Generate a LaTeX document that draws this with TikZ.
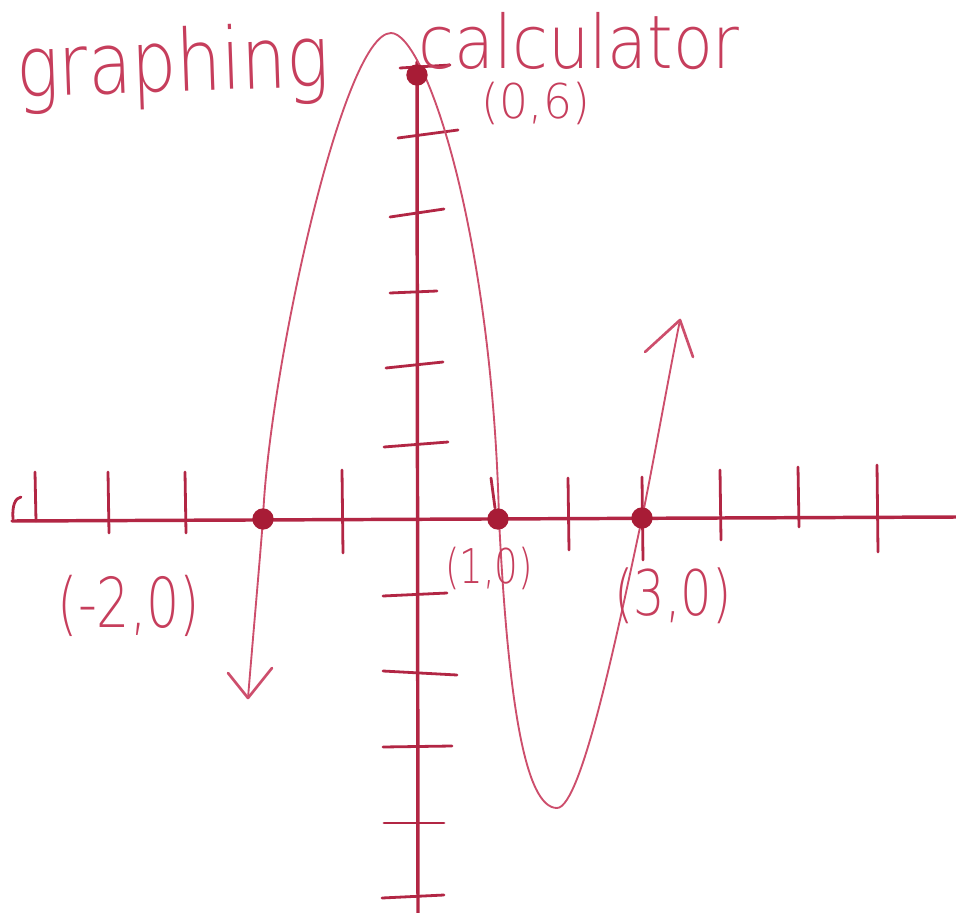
\documentclass[tikz,border=0pt]{standalone}
\usepackage{fontspec}
\newfontfamily\hand{DejaVuSans-ExtraLight.ttf}
\definecolor{axiscol}{RGB}{178,38,68}
\definecolor{curvecol}{RGB}{205,78,108}
\definecolor{textcol}{RGB}{198,62,92}
\definecolor{dotcol}{RGB}{168,28,54}
\tikzset{
  axisline/.style={draw=axiscol, line width=2.6pt, line cap=round},
  tickline/.style={draw=axiscol, line width=2.1pt, line cap=round},
  curveline/.style={draw=curvecol, line width=1.4pt, line cap=round, line join=round},
  headline/.style={draw=curvecol, line width=2pt, line cap=round, line join=round},
  rootdot/.style={circle, fill=dotcol, inner sep=0pt, minimum size=16pt},
  lbl/.style={text=textcol, inner sep=0pt, font=\hand}
}
\begin{document}
\begin{tikzpicture}[x=0.75pt,y=-0.75pt]
\useasboundingbox (0,0) rectangle (956,913);
% axes
\coordinate (xl) at (12,521);
\coordinate (xr) at (956,517);
\coordinate (yt) at (417,62);
\coordinate (yb) at (418,913);
\draw[axisline] (xl) -- (xr);
\draw[axisline] (yt) -- (yb);
\draw[tickline] (13,519) .. controls (12,506) and (15,498) .. (21,497);
% x ticks
\foreach \x/\a/\b in {35/472/521, 108/472/533, 185/472/533, 342/470/553,
  568/478/550, 642/477/560, 720/470/540, 798/467/527, 877/465/552}
  \draw[tickline] (\x,\a) -- (\x+1,\b);
\draw[tickline] (491,478) -- (495,508);
% y ticks
\foreach \xa/\ya/\xb/\yb in {400/68/450/65, 398/138/458/130, 390/217/444/209,
  390/293/437/291, 386/368/443/362, 384/447/448/442, 383/596/447/593,
  383/671/457/675, 383/747/452/746, 384/823/444/823, 382/898/444/895}
  \draw[tickline] (\xa,\ya) -- (\xb,\yb);
% curve
\coordinate (tipL) at (248,698);
\coordinate (tipR) at (680,320);
\coordinate (rootA) at (263,519);
\coordinate (peak) at (391,33);
\coordinate (rootB) at (499,519);
\coordinate (low) at (557,808);
\coordinate (rootC) at (642,518);
\draw[curveline] (tipL) .. controls (254,625) and (259,570) .. (rootA)
  .. controls (268,380) and (342,33) .. (peak)
  .. controls (425,33) and (492,230) .. (rootB)
  .. controls (508,700) and (525,808) .. (low)
  .. controls (582,808) and (620,620) .. (rootC)
  .. controls (652,470) and (668,380) .. (tipR);
\draw[headline] (228,673) -- (tipL) -- (272,668);
\draw[headline] (645,352) -- (tipR) -- (693,357);
% points
\node[rootdot] (rA) at (263,519) {};
\node[rootdot] (rB) at (498,519) {};
\node[rootdot] (rC) at (642,518) {};
\node[rootdot] (yI) at (417,75) {};
% labels
\node[lbl, rotate=2] (t1) at (173,68) {\resizebox*{235pt}{62pt}{graphing}};
\node[lbl] (t2) at (579,41) {\resizebox*{241pt}{43pt}{calculator}};
\node[lbl] (l06) at (536,103) {\resizebox*{81pt}{32pt}{(0,6)}};
\node[lbl] (lm20) at (129,606) {\resizebox*{107pt}{46pt}{(-2,0)}};
\node[lbl] (l10) at (489,568) {\resizebox*{66pt}{32pt}{(1,0)}};
\node[lbl] (l30) at (673,596) {\resizebox*{88pt}{42pt}{(3,0)}};
\end{tikzpicture}
\end{document}
